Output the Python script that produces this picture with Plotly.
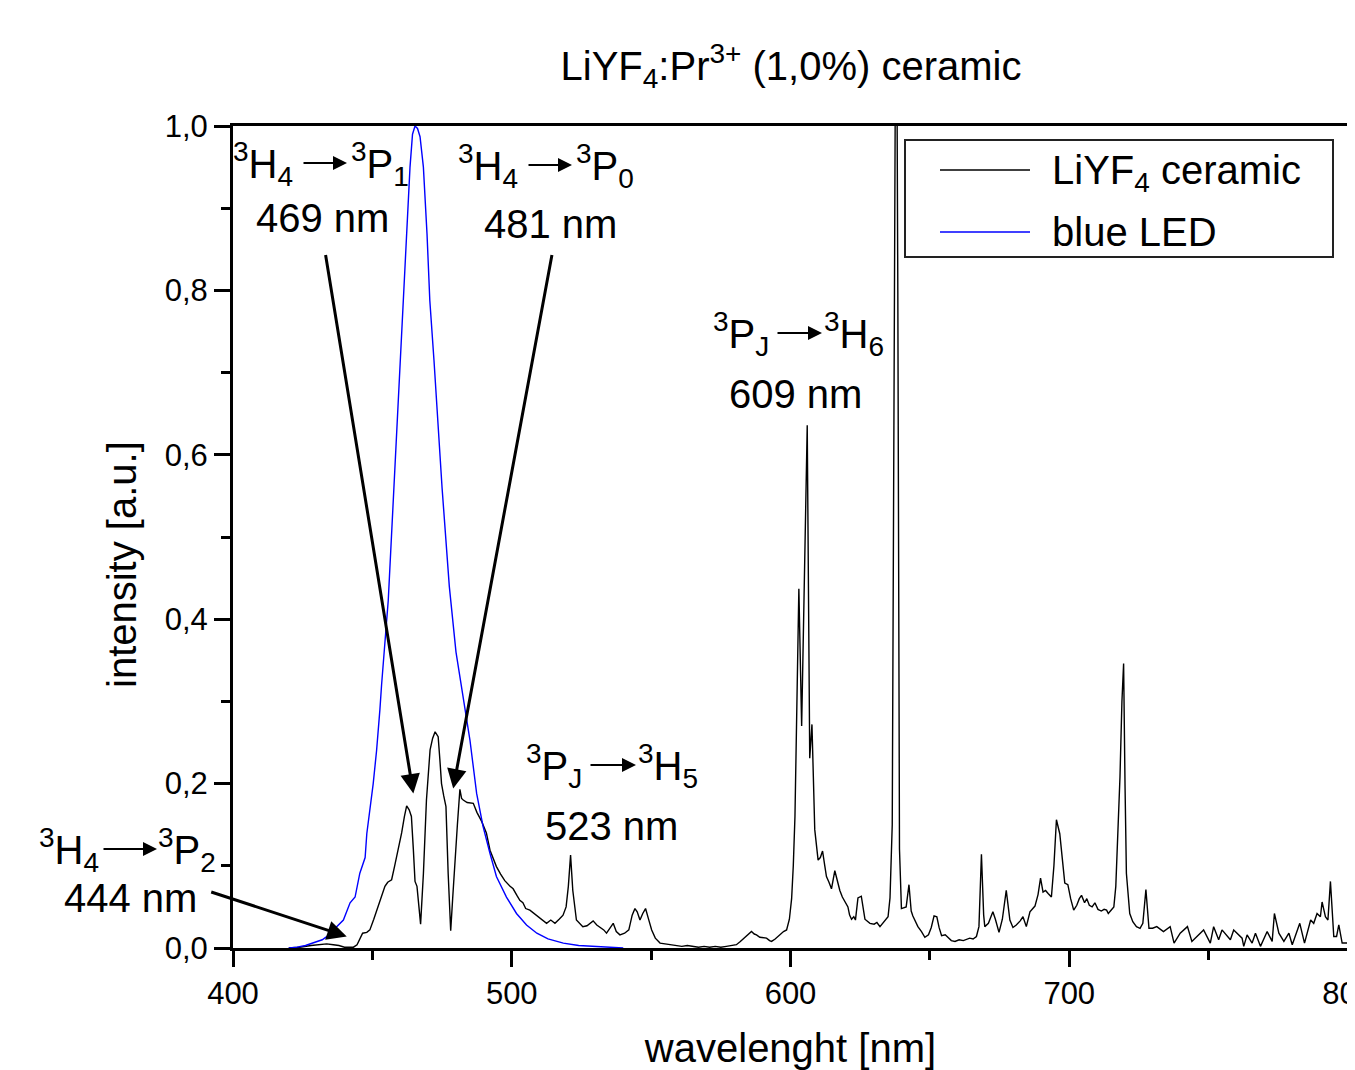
import plotly.graph_objects as go

# ---------------- data ----------------
wavelength_ceramic = [
    420, 424, 428, 431, 433.6, 436, 438, 440, 443.2, 444.5, 445.5, 446.5, 448, 449.1,
    450.5, 452.1, 453.5, 454.5, 455.5, 456.9, 458, 459.3, 460.5, 461.5, 462.3, 463.2,
    464.0, 464.7, 465.3, 466.0, 467.3, 468.3, 469.4, 470.7, 471.6, 472.5, 473.6, 474.2,
    474.8, 475.6, 476.4, 477.2, 478.1, 478.8, 479.6, 480.5, 481.4, 482.0, 482.6, 484,
    486.2, 487.5, 489.2, 490.9, 492.2, 493.5, 494.5, 496, 497.5, 499.4, 500.5, 502,
    502.9, 504, 505, 506.5, 508, 509.5, 511, 512.5, 514, 515.5, 517, 518.4, 519.5,
    520.3, 521.1, 521.9, 523.2, 524.5, 525.5, 527, 529.2, 530.5, 532, 533, 534, 535.5,
    536.4, 537.5, 538.8, 540.5, 542, 543.2, 544.2, 545, 546, 547, 548, 549, 550.2,
    551.5, 553.2, 555, 557, 559, 561, 563, 565, 567, 569, 571, 573, 575, 577, 579,
    580.6, 582, 584, 586, 587, 587.8, 589, 590.5, 591.4, 592.5, 593.2, 594.5, 596.2,
    597.5, 598.6, 599.6, 600.4, 601.0, 601.6, 602.2, 603.0, 604.0, 605.0, 606.0, 606.9,
    607.7, 608.7, 609.9, 610.7, 611.5, 612.3, 612.9, 613.8, 614.7, 615.9, 616.8, 617.7,
    618.6, 619.5, 620.6, 621.2, 621.9, 622.7, 623.3, 624.2, 625.4, 626.7, 627.6, 628.5,
    630, 631, 632.1, 633, 634, 635, 635.7, 636.5, 637.3, 637.9, 638.5, 639.1, 639.8,
    641.5, 642.5, 643.3, 643.9, 645, 645.7, 647, 648.2, 649.5, 650.5, 651.5, 652.5,
    653.3, 654.2, 655.5, 657, 657.7, 659, 660.5, 662, 664.3, 665.5, 666.7, 667.6, 668.5,
    669.3, 669.7, 671, 672.6, 673.5, 674.8, 676, 677.4, 678.7, 679.8, 681, 682.4, 683.4,
    684.6, 685.9, 687.7, 688.8, 689.7, 690.6, 691.5, 692.5, 693.6, 694.5, 695.4, 696.6,
    697.5, 698.4, 699.5, 700.5, 701.6, 702.7, 703.6, 704.4, 705.5, 706.3, 707.2, 708.2,
    709.2, 710.3, 711.5, 712.5, 713.4, 714, 715, 716, 716.7, 717.5, 718.2, 718.9, 719.5,
    720.0, 720.5, 721.7, 722.8, 724.1, 725.4, 726.4, 727.5, 728.6, 729.9, 731.4, 733.8,
    736.2, 737.6, 739.8, 742.4, 744, 745.8, 748.2, 750.6, 751.8, 753.6, 754.8, 757.8,
    759, 762, 762.6, 763.8, 765.6, 766.8, 768.6, 771, 772.8, 773.6, 775.2, 777, 778.8,
    780, 782.7, 784.4, 786.6, 787.7, 788.9, 790.1, 790.7, 791.9, 792.8, 793.7, 794.9,
    795.9, 796.7, 797.9, 799.7,
]
intensity_ceramic = [
    0.000, 0.001, 0.003, 0.004, 0.005, 0.004, 0.003, 0.001, 0.001, 0.004, 0.012, 0.018, 0.019, 0.022,
    0.035, 0.050, 0.064, 0.075, 0.080, 0.083, 0.100, 0.119, 0.140, 0.160, 0.173, 0.168,
    0.160, 0.120, 0.081, 0.075, 0.029, 0.090, 0.180, 0.241, 0.255, 0.263, 0.257, 0.230,
    0.200, 0.185, 0.172, 0.090, 0.021, 0.060, 0.107, 0.150, 0.193, 0.182, 0.180, 0.177,
    0.176, 0.165, 0.154, 0.140, 0.119, 0.107, 0.099, 0.090, 0.082, 0.075, 0.072, 0.063,
    0.058, 0.055, 0.048, 0.046, 0.042, 0.038, 0.033, 0.030, 0.034, 0.030, 0.035, 0.040, 0.050,
    0.075, 0.113, 0.070, 0.034, 0.030, 0.026, 0.027, 0.033, 0.028, 0.024, 0.022, 0.018, 0.026,
    0.030, 0.020, 0.016, 0.018, 0.022, 0.040, 0.048, 0.044, 0.034, 0.042, 0.048, 0.036, 0.022,
    0.012, 0.006, 0.005, 0.004, 0.003, 0.002, 0.003, 0.002, 0.001, 0.002, 0.001, 0.002, 0.001, 0.002, 0.003,
    0.004, 0.008, 0.014, 0.020, 0.017, 0.016, 0.013, 0.012, 0.012, 0.009, 0.008, 0.011, 0.016,
    0.020, 0.022, 0.035, 0.060, 0.100, 0.160, 0.280, 0.437, 0.270, 0.450, 0.636, 0.231,
    0.272, 0.144, 0.107, 0.110, 0.118, 0.100, 0.087, 0.080, 0.072, 0.094, 0.080, 0.070,
    0.062, 0.057, 0.050, 0.040, 0.035, 0.038, 0.034, 0.061, 0.063, 0.035, 0.033, 0.030,
    0.029, 0.031, 0.026, 0.030, 0.035, 0.038, 0.061, 0.150, 0.800, 1.300, 0.800, 0.120, 0.048,
    0.050, 0.077, 0.045, 0.039, 0.030, 0.026, 0.020, 0.013, 0.016, 0.025, 0.039, 0.038,
    0.025, 0.015, 0.016, 0.012, 0.009, 0.008, 0.010, 0.009, 0.012, 0.011, 0.014, 0.026, 0.114,
    0.040, 0.026, 0.030, 0.044, 0.035, 0.019, 0.035, 0.070, 0.034, 0.025, 0.028, 0.033, 0.038,
    0.026, 0.044, 0.051, 0.065, 0.085, 0.068, 0.070, 0.066, 0.062, 0.100, 0.156, 0.139,
    0.110, 0.079, 0.077, 0.060, 0.046, 0.052, 0.060, 0.064, 0.055, 0.060, 0.052, 0.050,
    0.055, 0.047, 0.045, 0.047, 0.046, 0.042, 0.046, 0.050, 0.075, 0.140, 0.208, 0.300, 0.346,
    0.200, 0.091, 0.042, 0.032, 0.026, 0.024, 0.030, 0.071, 0.024, 0.024, 0.026, 0.020,
    0.026, 0.006, 0.018, 0.026, 0.008, 0.014, 0.022, 0.006, 0.026, 0.010, 0.022, 0.010,
    0.022, 0.012, 0.002, 0.016, 0.006, 0.018, 0.002, 0.020, 0.008, 0.042, 0.018, 0.008, 0.018,
    0.004, 0.030, 0.006, 0.034, 0.030, 0.042, 0.038, 0.056, 0.038, 0.034, 0.081, 0.014,
    0.014, 0.028, 0.006, 0.006,
]

wavelength_led = [
    420, 423, 426, 428.8, 432, 435.4, 437.2, 439.6, 442, 443.8, 445.5, 447.4, 448, 450.3,
    451.5, 452.7, 453.3, 455.7, 458, 459.9, 461.1, 462.3, 463.5, 464.4, 465.3, 466.2,
    467.1, 468.3, 469.6, 470.6, 472.1, 475, 477.6, 480, 482.6, 485, 487.4, 489.7, 492.2,
    494.5, 498.1, 501.7, 505.3, 509, 513, 518.5, 524, 530, 535, 540,
]
intensity_led = [
    0.000, 0.001, 0.003, 0.006, 0.010, 0.018, 0.026, 0.034, 0.055, 0.062, 0.091, 0.110, 0.139, 0.200,
    0.240, 0.290, 0.320, 0.423, 0.580, 0.715, 0.788, 0.869, 0.950, 0.990, 1.000, 0.997,
    0.987, 0.950, 0.869, 0.788, 0.715, 0.560, 0.440, 0.360, 0.302, 0.253, 0.188, 0.148, 0.115,
    0.087, 0.062, 0.042, 0.028, 0.018, 0.011, 0.006, 0.003, 0.002, 0.001, 0.000,
]

series_names = ["LiYF<sub>4</sub> ceramic", "blue LED"]
series_colors = ["#000000", "#0000ff"]

x_tick_values = [400, 500, 600, 700, 800]
x_tick_labels = ["400", "500", "600", "700", "800"]
y_tick_values = [0.0, 0.2, 0.4, 0.6, 0.8, 1.0]
y_tick_labels = ["0,0", "0,2", "0,4", "0,6", "0,8", "1,0"]

# transition labels: (left term, right term, wavelength text)
label_terms = [
    ("<sup>3</sup>H<sub>4</sub>", "<sup>3</sup>P<sub>1</sub>", "469 nm"),
    ("<sup>3</sup>H<sub>4</sub>", "<sup>3</sup>P<sub>0</sub>", "481 nm"),
    ("<sup>3</sup>P<sub>J</sub>", "<sup>3</sup>H<sub>6</sub>", "609 nm"),
    ("<sup>3</sup>P<sub>J</sub>", "<sup>3</sup>H<sub>5</sub>", "523 nm"),
    ("<sup>3</sup>H<sub>4</sub>", "<sup>3</sup>P<sub>2</sub>", "444 nm"),
]
# arrow tips in data units (wavelength, intensity) for the pointer arrows
pointer_tips = [(464.7, 0.188), (479.0, 0.194), (440.8, 0.014)]

# ---------------- layout geometry ----------------
# the page body has an 8 px margin, so the figure is placed 8 px right / down
OFF = 8
W, H = 1355 - OFF, 1070 - OFF
# plot area in page pixels
L, R, T, B = 233, 1348, 126, 948
PW, PH = R - L, B - T
FONT = "Arial, Liberation Sans, Helvetica, sans-serif"


def px(x):
    return (x - L) / PW


def py(y):
    return (B - y) / PH


fig = go.Figure()
fig.add_trace(go.Scatter(x=wavelength_ceramic, y=intensity_ceramic, mode="lines",
                         name=series_names[0], line=dict(color=series_colors[0], width=1.4),
                         showlegend=False))
fig.add_trace(go.Scatter(x=wavelength_led, y=intensity_led, mode="lines",
                         name=series_names[1], line=dict(color=series_colors[1], width=1.4),
                         showlegend=False))

annotations = []
shapes = []

# label placements (page px): left-term right edge, arrow x0, arrow x1, right-term left edge,
# y of line 1, wavelength text center x, y of line 2
placements = [
    (295, 302, 347, 349, 163, 322, 218),
    (520, 527, 572, 574, 165, 550, 224),
    (771, 776, 822, 822, 333, 796, 394),
    (584, 589, 636, 636, 765, 611, 826),
    (101, 102, 157, 156, 849, 130, 898),
]
for (lt, rt, nm), (lx, ax0, ax1, rx, y1, nx, y2) in zip(label_terms, placements):
    annotations.append(dict(text=lt, xref="paper", yref="paper", x=px(lx), y=py(y1 + 1),
                            xanchor="right", yanchor="middle", showarrow=False,
                            font=dict(size=40, family=FONT, color="black")))
    annotations.append(dict(text=rt, xref="paper", yref="paper", x=px(rx), y=py(y1 + 1),
                            xanchor="left", yanchor="middle", showarrow=False,
                            font=dict(size=40, family=FONT, color="black")))
    annotations.append(dict(text="", xref="paper", yref="paper", x=px(ax1), y=py(y1),
                            ax=ax0 - ax1, ay=0, showarrow=True, arrowhead=2, arrowsize=1.4,
                            arrowwidth=2, arrowcolor="black", standoff=0))
    annotations.append(dict(text=nm, xref="paper", yref="paper", x=px(nx), y=py(y2),
                            xanchor="center", yanchor="middle", showarrow=False,
                            font=dict(size=40, family=FONT, color="black")))

# pointer arrows (tail offsets in pixels)
tails = [(-88, -540), (99, -535), (-137, -45)]
for (tx, ty), (ox, oy) in zip(pointer_tips, tails):
    annotations.append(dict(text="", x=tx, y=ty, xref="x", yref="y", ax=ox, ay=oy,
                            showarrow=True, arrowhead=2, arrowsize=1.3, arrowwidth=3,
                            arrowcolor="black", standoff=0))

# y-axis title
annotations.append(dict(text="intensity [a.u.]", xref="paper", yref="paper", x=px(122), y=py(565),
                        xanchor="center", yanchor="middle", textangle=-90, showarrow=False,
                        font=dict(size=40, family=FONT, color="black")))

# legend (box, sample lines, texts)
shapes.append(dict(type="rect", xref="paper", yref="paper", x0=px(905), x1=px(1333), y0=py(257),
                   y1=py(140), line=dict(color="#222222", width=2), fillcolor="white", layer="above"))
for i, (name, col) in enumerate(zip(series_names, series_colors)):
    yy = 170 + i * 62
    shapes.append(dict(type="line", xref="paper", yref="paper", x0=px(940), x1=px(1030),
                       y0=py(yy), y1=py(yy), line=dict(color=col, width=1.5), layer="above"))
    annotations.append(dict(text=name, xref="paper", yref="paper", x=px(1050), y=py(yy + (3 if i == 0 else 0)),
                            xanchor="left", yanchor="middle", showarrow=False,
                            font=dict(size=40, family=FONT, color="black")))

fig.update_layout(
    width=W, height=H,
    margin=dict(l=L - OFF, r=W - (R - OFF), t=T - OFF, b=H - (B - OFF), autoexpand=False),
    paper_bgcolor="white", plot_bgcolor="white",
    font=dict(family=FONT, color="black"),
    separators=",.",
    title=dict(text="LiYF<sub>4</sub>:Pr<sup>3+</sup> (1,0%) ceramic", x=px(791), xref="paper",
               xanchor="center", y=1 - (66 - OFF) / H, yref="container", yanchor="middle",
               font=dict(size=40, family=FONT, color="black")),
    annotations=annotations,
    shapes=shapes,
    showlegend=False,
)
fig.update_xaxes(range=[400, 800], tickvals=x_tick_values, ticktext=x_tick_labels,
                 ticklabeloverflow="allow",
                 showline=True, linewidth=3, linecolor="black", mirror=True,
                 ticks="outside", ticklen=16, tickwidth=3, tickcolor="black",
                 minor=dict(dtick=50, tick0=400, ticks="outside", ticklen=9, tickwidth=3, tickcolor="black"),
                 showgrid=False, zeroline=False,
                 tickfont=dict(size=31, family=FONT, color="black"),
                 title=dict(text="wavelenght [nm]", font=dict(size=40, family=FONT, color="black"), standoff=33))
fig.update_yaxes(range=[0, 1.0], tickvals=y_tick_values, ticktext=y_tick_labels,
                 showline=True, linewidth=3, linecolor="black", mirror=True,
                 ticks="outside", ticklen=16, tickwidth=3, tickcolor="black",
                 minor=dict(dtick=0.1, tick0=0, ticks="outside", ticklen=9, tickwidth=3, tickcolor="black"),
                 showgrid=False, zeroline=False,
                 tickfont=dict(size=31, family=FONT, color="black"))

fig.write_html("out.html")
